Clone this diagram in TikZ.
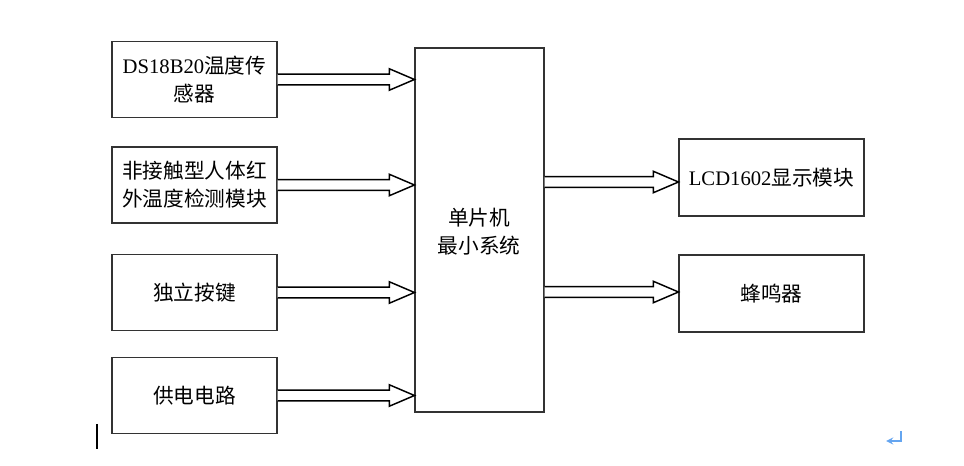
\documentclass[tikz,border=0pt]{standalone}
\usepackage{fontspec}
\setmainfont{Liberation Serif}
\newfontfamily\cjk{Noto Sans CJK SC}
\usetikzlibrary{calc}

\tikzset{
  block/.style={draw=black!80, line width=0.8pt, fill=white, align=center,
    font=\cjk\fontsize{15.5}{21}\selectfont, inner sep=0pt},
  leftbox/.style={block, minimum width=123.75pt, minimum height=57pt},
  rightbox/.style={block, minimum width=138.75pt, minimum height=57.75pt},
  bigarrow/.style={draw=black, line width=1.1pt, line join=miter, fill=white}
}
% hollow arrow: start point, target node
\newcommand{\fatarrow}[2]{%
  \draw[bigarrow] let \p1=(#1), \p2=(#2.west) in
    (\x1,\y1+4.1pt) -- (\x2-18.75pt,\y1+4.1pt) -- (\x2-18.75pt,\y1+8pt) -- (\x2,\y1)
    -- (\x2-18.75pt,\y1-8pt) -- (\x2-18.75pt,\y1-4.1pt) -- (\x1,\y1-4.1pt);}

\begin{document}
\begin{tikzpicture}[x=0.75pt,y=-0.75pt]
\useasboundingbox (0,0) rectangle (964,466);

\node[block, minimum width=96.75pt, minimum height=273pt] (cpu) at (479.5,230) {};
\node[font=\cjk\fontsize{15.5}{21}\selectfont, align=center, inner sep=0pt] (cpulabel) at (479,232) {单片机\\最小系统};

\foreach \name/\y/\txt in {s1/79.5/{{\rmfamily DS18B20}温度传\\感器},s2/185/{非接触型人体红\\外温度检测模块},s3/292.5/{独立按键},s4/395.5/{供电电路}}
  \node[leftbox] (\name) at (194.5,\y) {\txt};

\node[rightbox] (lcd) at (771.5,177.5) {{\rmfamily LCD1602}显示模块};
\node[rightbox] (buz) at (771.5,293.5) {蜂鸣器};

\foreach \name in {s1,s2,s3,s4}
  \fatarrow{\name.east}{cpu};
\fatarrow{$(cpu.east|-lcd.west)+(0,4.5)$}{lcd}
\fatarrow{$(cpu.east|-buz.west)+(0,-1.5)$}{buz}

% cursor and paragraph mark
\draw[line width=1.5pt] (96.5,424) -- (96.5,449);
\draw[color={rgb,255:red,100;green,165;blue,240}, line width=1.4pt, ->, >=stealth] (901,431) -- (901,441) -- (886,441);
\end{tikzpicture}
\end{document}
